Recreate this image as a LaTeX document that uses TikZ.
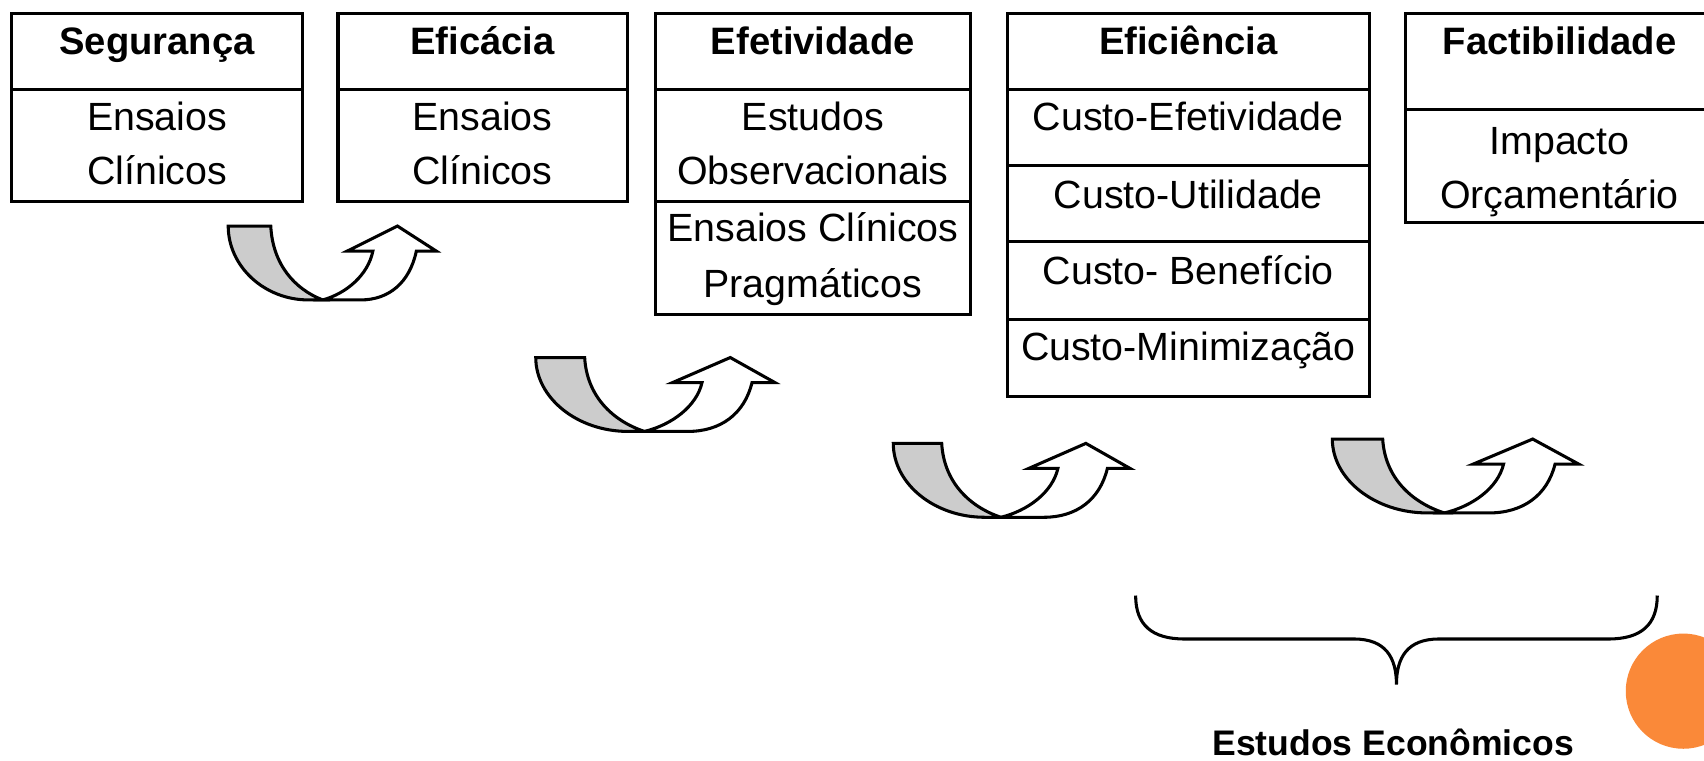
\documentclass[tikz,border=0pt]{standalone}
\usepackage{fontspec}
\setmainfont{Liberation Sans}
\usepackage{tikz}
\usetikzlibrary{calc}

\definecolor{slideorange}{RGB}{250,137,57}

\tikzset{
  hdr/.style={font=\fontsize{10}{14.2}\selectfont\bfseries, anchor=base},
  cell/.style={font=\fontsize{10.3}{14.2}\selectfont, anchor=base},
  band/.style={line width=0.8pt, line join=miter},
}

\begin{document}
\begin{tikzpicture}[x=0.01cm, y=-0.01cm, line width=0.8pt]
    \useasboundingbox (0,0) rectangle (1568,700);
    \clip (0,0) rectangle (1568,700);

    % Tables
    \draw (11,12) rectangle (278,185) (11,82) -- (278,82);
    \draw (311,12) rectangle (577,185) (311,82) -- (577,82);
    \draw (603,12) rectangle (893,289) (603,82) -- (893,82) (603,185) -- (893,185);
    \draw (927,12) rectangle (1260,365);
    \foreach \y in {82,152,222,294} {
        \draw (927,\y) -- (1260,\y);
    }
    \draw (1293,12) rectangle (1577,205) (1293,101) -- (1577,101);

    \node[hdr] (seg) at (144.5,50) {Segurança};
    \node[cell] (seg1) at (144.5,120) {Ensaios};
    \node[cell] (seg2) at (144.5,170) {Clínicos};

    \node[hdr] (efic) at (444,50) {Eficácia};
    \node[cell] (efic1) at (444,120) {Ensaios};
    \node[cell] (efic2) at (444,170) {Clínicos};

    \node[hdr] (efet) at (748,50) {Efetividade};
    \node[cell] (efet1) at (748,120) {Estudos};
    \node[cell] (efet2) at (748,170) {Observacionais};
    \node[cell] (efet3) at (748,222) {Ensaios Clínicos};
    \node[cell] (efet4) at (748,274) {Pragmáticos};

    \node[hdr] (efin) at (1093.5,50) {Eficiência};
    \node[cell] (efin1) at (1093.5,120) {Custo-Efetividade};
    \node[cell] (efin2) at (1093.5,192) {Custo-Utilidade};
    \node[cell] (efin3) at (1093.5,262) {Custo- Benefício};
    \node[cell] (efin4) at (1093.5,332) {Custo-Minimização};

    \node[hdr] (fact) at (1435,50) {Factibilidade};
    \node[cell] (fact1) at (1435,142) {Impacto};
    \node[cell] (fact2) at (1435,192) {Orçamentário};

    % Curved arrows
    \foreach \x/\y/\s in {210/208/0.87, 493/329/1.0, 822/408/0.99, 1226/404/1.03} {
        \begin{scope}[shift={(\x,\y)}, xscale=\s]
            \filldraw[band, fill=gray!40] (0,0) -- (45,0) .. controls (47,35) and (70,58) .. (100,68)
                -- (85,68) .. controls (38,68) and (0,37) .. (0,0) -- cycle;
            \filldraw[band, fill=white] (100,68) .. controls (125,62) and (148,45) .. (153,23)
                -- (126,23) -- (179,0) -- (220,23) -- (199,23)
                .. controls (192,52) and (170,68) .. (140,68) -- cycle;
        \end{scope}
    }

    % Brace
    \draw (1045,548) .. controls (1045,575) and (1060,588) .. (1090,588) -- (1246,588)
        .. controls (1275,588) and (1285,605) .. (1285,630)
        .. controls (1285,605) and (1295,588) .. (1324,588) -- (1480,588)
        .. controls (1510,588) and (1525,575) .. (1525,548);
    \node[hdr, font=\fontsize{9.3}{11}\selectfont\bfseries] (econ) at (1282,695) {Estudos Econômicos};

    \fill[slideorange] (1549,636) circle (53);
\end{tikzpicture}
\end{document}
